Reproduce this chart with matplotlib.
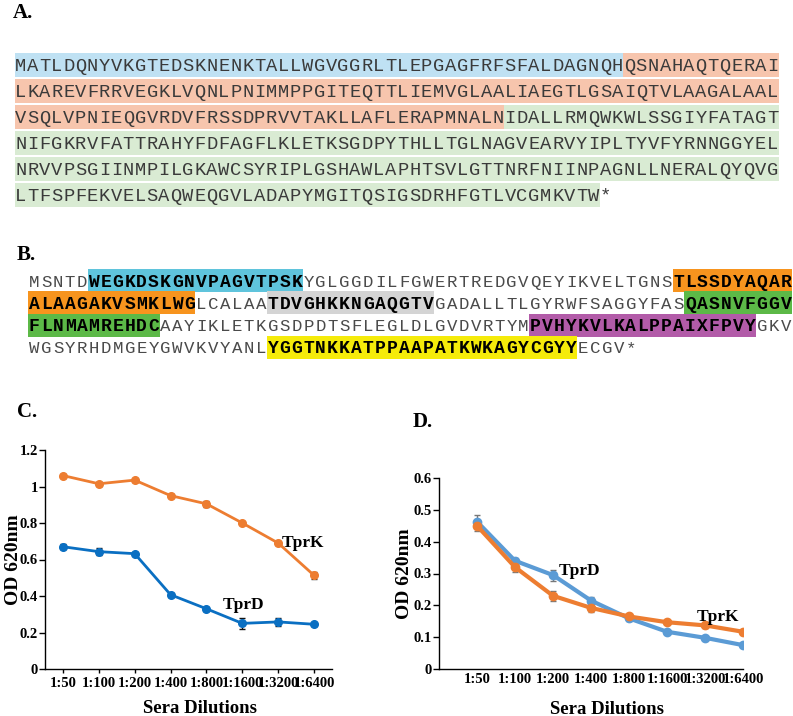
import matplotlib
matplotlib.use('Agg')
import matplotlib.pyplot as plt
from matplotlib.patches import Rectangle
from matplotlib.ticker import FuncFormatter

W, H = 793, 716

# panel A: TprK-like sequence, shaded by region
seq_a = [
    ("MATLDQNYVKGTEDSKNENKTALLWGVGGRLTLEPGAGFRFSFALDAGNQH", "#bfe1f3"),
    ("QSNAHAQTQERAILKAREVFRRVEGKLVQNLPNIMMPPGITEQTTLIEMVGLAALIAEGTLGSAIQTVLAAGALAAL"
     "VSQLVPNIEQGVRDVFRSSDPRVVTAKLLAFLERAPMNALN", "#f7c5ad"),
    ("IDALLRMQWKWLSSGIYFATAGTNIFGKRVFATTRAHYFDFAGFLKLETKSGDPYTHLLTGLNAGVEARVYIPLTYVFYRNNGGYEL"
     "NRVVPSGIINMPILGKAWCSYRIPLGSHAWLAPHTSVLGTTNRFNIINPAGNLLNERALQYQVG"
     "LTFSPFEKVELSAQWEQGVLADAPYMGITQSIGSDRHFGTLVCGMKVTW", "#d9ebd3"),
    ("*", None),
]

# panel B: sequence with highlighted peptides
seq_b = [
    ("MSNTD", None),
    ("WEGKDSKGNVPAGVTPSK", "#5fc4dc"),
    ("YGLGGDILFGWERTREDGVQEYIKVELTGNS", None),
    ("TLSSDYAQARALAAGAKVSMKLWG", "#f7941e"),
    ("LCALAA", None),
    ("TDVGHKKNGAQGTV", "#d4d4d4"),
    ("GADALLTLGYRWFSAGGYFAS", None),
    ("QASNVFGGVFLNMAMREHDC", "#5cb947"),
    ("AAYIKLETKGSDPDTSFLEGLDLGVDVRTYM", None),
    ("PVHYKVLKALPPAIXFPVY", "#b25ba8"),
    ("GKVWGSYRHDMGEYGWVKVYANL", None),
    ("YGGTNKKATPPAAPATKWKAGYCGYY", "#f5eb0a"),
    ("ECGV*", None),
]

dilutions = ["1:50", "1:100", "1:200", "1:400", "1:800", "1:1600", "1:3200", "1:6400"]

c_tprk = [1.06, 1.015, 1.035, 0.95, 0.905, 0.80, 0.69, 0.513]
c_tprk_err = [0.01, 0.012, 0.008, 0.008, 0.015, 0.008, 0.008, 0.02]
c_tprd = [0.67, 0.643, 0.632, 0.407, 0.33, 0.25, 0.258, 0.245]
c_tprd_err = [0.015, 0.02, 0.008, 0.01, 0.01, 0.03, 0.022, 0.008]

d_tprd = [0.463, 0.34, 0.295, 0.215, 0.159, 0.117, 0.098, 0.075]
d_tprd_err = [0.02, 0.01, 0.017, 0.01, 0.008, 0.005, 0.005, 0.004]
d_tprk = [0.45, 0.32, 0.23, 0.192, 0.165, 0.147, 0.137, 0.117]
d_tprk_err = [0.015, 0.015, 0.015, 0.012, 0.008, 0.005, 0.008, 0.004]

plt.rcParams['font.family'] = ['Liberation Serif', 'DejaVu Serif']

fig = plt.figure(figsize=(W / 100, H / 100), dpi=100)
bg = fig.add_axes([0, 0, 1, 1])
bg.set_xlim(0, W)
bg.set_ylim(H, 0)
bg.axis('off')

CW = 11.93
PER_LINE = 64


def draw_seq(segments, x0, base0, pitch, box_h, plain_color, bold_hl, size_plain, size_hl):
    chars = []
    for text, col in segments:
        for ch in text:
            chars.append((ch, col))
    # shaded runs, merged per line
    i = 0
    while i < len(chars):
        col = chars[i][1]
        line = i // PER_LINE
        j = i
        while j < len(chars) and chars[j][1] == col and j // PER_LINE == line:
            j += 1
        if col is not None:
            c0 = i % PER_LINE
            top = base0 + line * pitch - 17.5
            bg.add_patch(Rectangle((x0 + c0 * CW, top), (j - i) * CW, box_h,
                                   facecolor=col, edgecolor='none', zorder=1))
        i = j
    for k, (ch, col) in enumerate(chars):
        line, c = divmod(k, PER_LINE)
        hl = bold_hl and col is not None
        bg.text(x0 + (c + 0.5) * CW, base0 + line * pitch, ch,
                ha='center', va='baseline', family='Liberation Mono',
                fontsize=size_hl if hl else size_plain,
                fontweight='bold' if hl else 'normal',
                color='black' if hl else plain_color, zorder=2)


draw_seq(seq_a, 15, 70.7, 26.0, 23.5, '#3a3a3a', False, 13.5, 13.5)
draw_seq(seq_b, 28.3, 286.7, 22.2, 23.0, '#4a4a4a', True, 12.5, 13)

for lab, x, y in [("A.", 13, 13), ("B.", 17, 255), ("C.", 17, 412), ("D.", 413, 422)]:
    bg.text(x, y, lab, ha='left', va='center', fontsize=15, fontweight='bold',
            color='black')

fmt = FuncFormatter(lambda v, p: '%g' % round(v, 2))


def style(ax, ymax, ystep, xl, xticklen):
    for s in ['top', 'right']:
        ax.spines[s].set_visible(False)
    for s in ['left', 'bottom']:
        ax.spines[s].set_linewidth(1.0)
    ax.set_ylim(0, ymax)
    ax.set_yticks([round(k * ystep, 2) for k in range(int(round(ymax / ystep)) + 1)])
    ax.yaxis.set_major_formatter(fmt)
    ax.set_xticks(range(len(dilutions)))
    ax.set_xticklabels(dilutions)
    ax.set_xlim(*xl)
    ax.tick_params(axis='y', length=4, width=1, pad=1, labelsize=10.5)
    ax.tick_params(axis='x', length=xticklen, width=1, pad=3, labelsize=10.5)
    for t in ax.get_xticklabels() + ax.get_yticklabels():
        t.set_fontweight('bold')
    ax.set_ylabel("OD 620nm", fontsize=14, fontweight='bold')
    ax.set_xlabel("Sera Dilutions", fontsize=13.5, fontweight='bold')


x = list(range(len(dilutions)))

# panel C
axc = fig.add_axes([45 / W, 1 - 669 / H, 287 / W, 219 / H])
axc.errorbar(x, c_tprk, yerr=c_tprk_err, fmt='-o', color='#ed7d31', lw=2,
             ms=5.5, ecolor='#333333', elinewidth=1, capsize=2.5)
axc.errorbar(x, c_tprd, yerr=c_tprd_err, fmt='-o', color='#0a6fc2', lw=2,
             ms=5.5, ecolor='#111111', elinewidth=1, capsize=2.5)
style(axc, 1.2, 0.2, (-0.5, 7.5), 3)
axc.text(6.1, 0.69, "TprK", ha='left', va='center', fontsize=12.5, fontweight='bold')
axc.text(5.04, 0.35, "TprD", ha='center', va='center', fontsize=12.5, fontweight='bold')
axc.yaxis.set_label_coords(-0.08, 0.5)
axc.xaxis.set_label_coords(0.54, -0.14)

# panel D
axd = fig.add_axes([439 / W, 1 - 669 / H, 304 / W, 191 / H])
axd.errorbar(x, d_tprd, yerr=d_tprd_err, fmt='-o', color='#5b9bd5', lw=3,
             ms=6, ecolor='#777777', elinewidth=1, capsize=2.5)
axd.errorbar(x, d_tprk, yerr=d_tprk_err, fmt='-o', color='#ed7d31', lw=3,
             ms=6, ecolor='#777777', elinewidth=1, capsize=2.5)
style(axd, 0.6, 0.1, (-1, 7), 0)
axd.text(2.15, 0.308, "TprD", ha='left', va='center', fontsize=12.5, fontweight='bold')
axd.text(6.34, 0.163, "TprK", ha='center', va='center', fontsize=12.5, fontweight='bold')
axd.yaxis.set_label_coords(-0.086, 0.5)
axd.xaxis.set_label_coords(0.553, -0.165)

fig.savefig("out.png", dpi=100)
